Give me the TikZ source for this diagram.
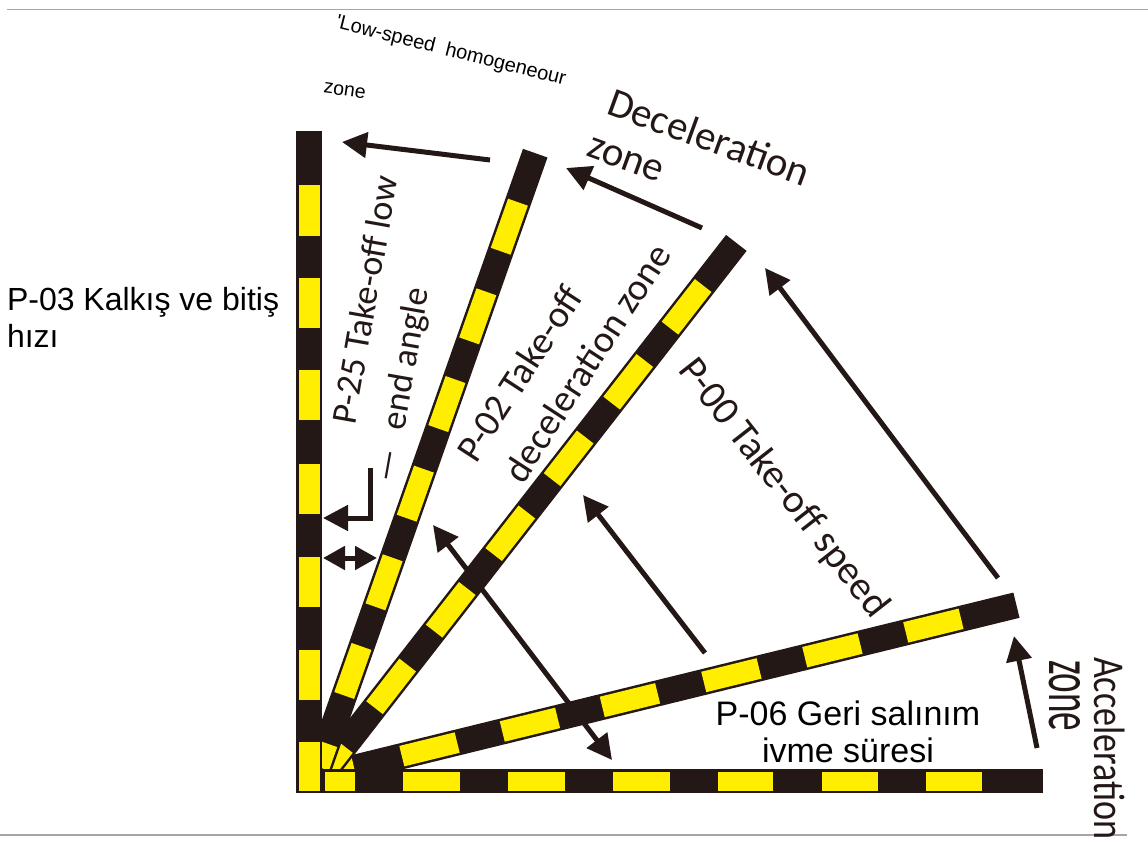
\documentclass[tikz,border=0pt]{standalone}
\usepackage{fontspec}
\setmainfont{Liberation Sans}
\newfontfamily\hum{Carlito}
\usetikzlibrary{arrows.meta}
\definecolor{barblk}{RGB}{35,24,21}
\definecolor{baryel}{RGB}{255,238,0}
\definecolor{rulegray}{RGB}{165,165,165}
\tikzset{
  arr/.style={draw=barblk, line width=5pt, -{Triangle[length=25pt,width=25pt]}},
  darr/.style={draw=barblk, line width=5pt, {Triangle[length=25pt,width=25pt]}-{Triangle[length=25pt,width=25pt]}},
  sarr/.style={draw=barblk, line width=5pt, -{Triangle[length=22pt,width=23pt]}},
  lbl/.style={inner sep=0pt, outer sep=0pt, anchor=base west, text=black},
  clbl/.style={inner sep=0pt, outer sep=0pt, anchor=base, text=black, font=\fontsize{34}{34}\selectfont},
  hlbl/.style={inner sep=0pt, outer sep=0pt, anchor=base west, text=barblk, font=\hum\fontsize{40}{40}\selectfont},
  rulestyle/.style={draw=rulegray, line width=1.5pt}
}
\begin{document}
\begin{tikzpicture}[x=1pt, y=-1pt, line join=miter]
\useasboundingbox (0,0) rectangle (1148,845);
\fill[white] (0,0) rectangle (1148,845);

% gray rules
\draw[rulestyle] (7,9.5) -- (1148,9.5);
\draw[rulestyle] (0,835) -- (1127,835);

% tilted bar 4 (lowest)
\begin{scope}[shift={(325,775)}, rotate=13.8]
  \fill[barblk] (0,-13) rectangle (712,13);
  \foreach \c in {107.6,211,314,418.5,522.5,626.5}
    \fill[baryel] (\c-28.5,-10.5) rectangle (\c+28.5,10.5);
  \fill[baryel] (3,-10.5) rectangle (30,10.5);
\end{scope}
% tilted bar 3
\begin{scope}[shift={(326,770)}, rotate=52.1]
  \fill[barblk] (0,-13) rectangle (668,13);
  \foreach \c in {106,203,300,395,492,587}
    \fill[baryel] (\c-27,-10.5) rectangle (\c+27,10.5);
  \fill[baryel] (3,-10.5) rectangle (30,10.5);
\end{scope}
% tilted bar 2
\begin{scope}[shift={(318,770)}, rotate=70.6]
  \fill[barblk] (0,-13) rectangle (654,13);
  \foreach \c in {105,199,293,388,481,576}
    \fill[baryel] (\c-26,-10.5) rectangle (\c+26,10.5);
  \fill[baryel] (3,-10.5) rectangle (28,10.5);
\end{scope}

% horizontal bar
\fill[barblk] (322,769) rectangle (1043,793);
\foreach \a/\b in {324.5/355,403/460,508/565,613/670,718/773,822/878,926/982}
  \fill[baryel] (\a,771.5) rectangle (\b,790.5);
% vertical bar
\fill[barblk] (296,131) rectangle (322,793);
\foreach \c in {674.5,582,489,394.5,303,210.5}
  \fill[baryel] (298.5,\c-25) rectangle (319.5,\c+25);
\fill[baryel] (298.5,742) rectangle (319.5,790.5);

% arrows
\coordinate (a1s) at (490,160); \coordinate (a1e) at (342,142);
\coordinate (a2s) at (702,228); \coordinate (a2e) at (566,168);
\coordinate (a3s) at (998,578); \coordinate (a3e) at (765,268);
\coordinate (a4s) at (705,653); \coordinate (a4e) at (583,495);
\coordinate (a5s) at (433,525); \coordinate (a5e) at (612,760);
\coordinate (a6s) at (1037,748); \coordinate (a6e) at (1014,636);
\coordinate (a7s) at (370,468); \coordinate (a7e) at (323,518);
\coordinate (a8m) at (349,558); \coordinate (a8l) at (323,558); \coordinate (a8r) at (377,558);
\draw[arr] (a1s) -- (a1e);
\draw[arr] (a2s) -- (a2e);
\draw[arr] (a3s) -- (a3e);
\draw[arr] (a4s) -- (a4e);
\draw[darr] (a5s) -- (a5e);
\draw[arr] (a6s) -- (a6e);
\draw[arr] (a7s) |- (a7e);
\draw[sarr] (a8m) -- (a8l);
\draw[sarr] (a8m) -- (a8r);

% Liberation Sans labels
\node[lbl, font=\fontsize{32}{32}\selectfont] (p03a) at (7,310) {P-03 Kalkış ve bitiş};
\node[lbl, font=\fontsize{32}{32}\selectfont] (p03b) at (7,347) {hızı};
\node[clbl] (p06a) at (848,725) {P-06 Geri salınım};
\node[clbl] (p06b) at (848,762) {ivme süresi};
\node[lbl, font=\fontsize{20}{20}\selectfont, rotate=-14] (lowsp) at (335,28) {\textquotesingle Low-speed\ \ homogeneour};
\node[lbl, font=\fontsize{19.5}{19.5}\selectfont, rotate=-8] (zonetop) at (323,93) {zone};

% humanist labels
\node[hlbl, font=\hum\fontsize{36}{36}\selectfont, rotate=80] (p25a) at (355,425) {P-25 Take-off low};
\node[hlbl, font=\hum\fontsize{36}{36}\selectfont, rotate=80] (p25b) at (395,483) {—\hspace{20pt}end angle};
\node[hlbl, font=\hum\fontsize{38}{38}\selectfont, rotate=57] (p02a) at (476,464) {P-02 Take-off};
\node[hlbl, font=\hum\fontsize{38}{38}\selectfont, rotate=57] (p02b) at (523,485) {deceleration zone};
\node[hlbl, rotate=-52] (p00) at (677,370) {P-00 Take-off speed};
\node[hlbl, font=\hum\fontsize{41}{41}\selectfont, rotate=-20] (dec1) at (605,114) {Deceleration};
\node[hlbl, font=\hum\fontsize{41}{41}\selectfont, rotate=-20] (dec2) at (585,156) {zone};
\node[hlbl, rotate=-90] (acc1) at (1094,657) {\scalebox{0.82}[1]{\fontsize{44}{44}\selectfont Acceleration}};
\node[hlbl, rotate=-90] (acc2) at (1049,660) {\scalebox{0.58}[1]{\fontsize{64}{64}\selectfont zone}};
\end{tikzpicture}
\end{document}
